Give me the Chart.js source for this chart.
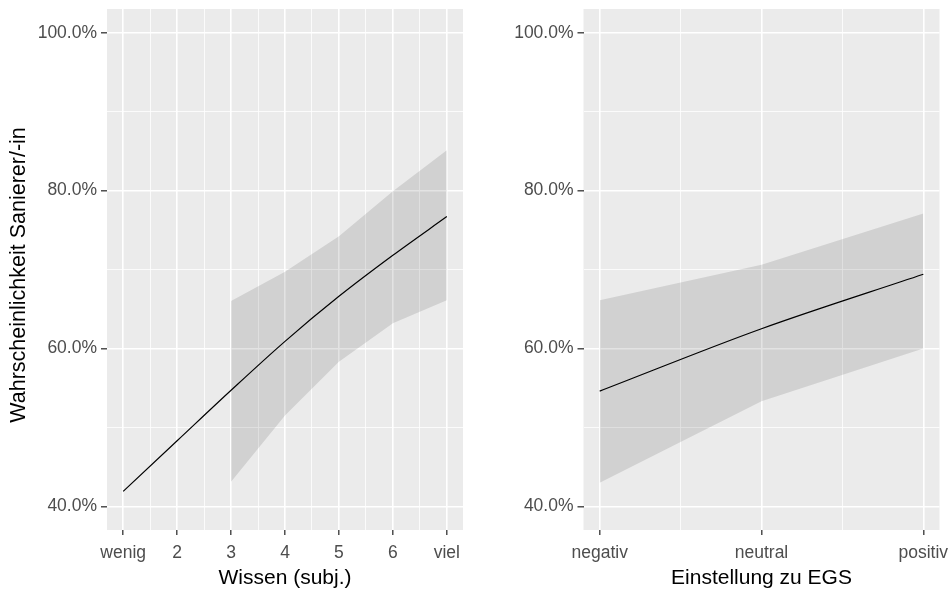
<!DOCTYPE html>
<html>
<head>
<meta charset="utf-8">
<script src="https://cdn.jsdelivr.net/npm/chart.js@4/dist/chart.umd.min.js"></script>
<style>
  html, body { margin: 0; padding: 0; background: #ffffff; }
  .panel { position: absolute; top: 0; width: 475px; height: 589px; }
</style>
</head>
<body>
<div class="panel" style="left:0"><canvas id="wissen" width="475" height="589"></canvas></div>
<div class="panel" style="left:475px"><canvas id="egs" width="475" height="589"></canvas></div>
<script>
// shared y axis
const yMajor = [0.4, 0.6, 0.8, 1.0];
const yMajorLabels = ['40.0%', '60.0%', '80.0%', '100.0%'];
const yMinor = [0.5, 0.7, 0.9];
const yTitle = 'Wahrscheinlichkeit Sanierer/-in';

// left panel: Wissen (subj.)
const wissenX = [1, 2, 3, 4, 5, 6, 7];
const wissenFit = [0.419, 0.483, 0.547, 0.609, 0.666, 0.718, 0.767];
const wissenBandX = [3, 4, 5, 6, 7];
const wissenUpper = [0.660, 0.697, 0.742, 0.799, 0.851];
const wissenLower = [0.431, 0.515, 0.583, 0.632, 0.661];
const wissenTicks = [1, 2, 3, 4, 5, 6, 7];
const wissenLabels = ['wenig', '2', '3', '4', '5', '6', 'viel'];
const wissenMinor = [1.5, 2.5, 3.5, 4.5, 5.5, 6.5];

// right panel: Einstellung zu EGS
const egsX = [1, 2, 3];
const egsFit = [0.546, 0.625, 0.694];
const egsUpper = [0.661, 0.706, 0.771];
const egsLower = [0.430, 0.533, 0.600];
const egsTicks = [1, 2, 3];
const egsLabels = ['negativ', 'neutral', 'positiv'];
const egsMinor = [1.5, 2.5];

const FONT = '"Liberation Sans", Arial, sans-serif';

const panelBg = {
  id: 'panelBg',
  beforeDraw(chart) {
    const a = chart.chartArea;
    const ctx = chart.ctx;
    ctx.save();
    ctx.fillStyle = '#ebebeb';
    ctx.fillRect(a.left, a.top, a.right - a.left, a.bottom - a.top);
    ctx.restore();
  }
};

// rotated y title, placed a bit lower than the scale centre like in ggplot
const yTitlePlugin = {
  id: 'yTitlePlugin',
  afterDraw(chart, args, o) {
    if (!o.text) return;
    const ctx = chart.ctx;
    ctx.save();
    ctx.translate(o.x, o.y);
    ctx.rotate(-Math.PI / 2);
    ctx.fillStyle = '#000000';
    ctx.font = '21.5px ' + FONT;
    ctx.textAlign = 'center';
    ctx.textBaseline = 'middle';
    ctx.fillText(o.text, 0, 0);
    ctx.restore();
  }
};

function pts(xs, ys) {
  return xs.map((x, i) => ({ x: x, y: ys[i] }));
}

function makeChart(id, opts) {
  const majorX = opts.ticks;
  const isMajorX = v => majorX.includes(v);
  const isMajorY = v => yMajor.some(m => Math.abs(m - v) < 1e-9);

  return new Chart(document.getElementById(id), {
    type: 'line',
    data: {
      datasets: [
        {
          data: pts(opts.x, opts.fit),
          borderColor: '#000000',
          borderWidth: 1.2,
          pointRadius: 0,
          fill: false,
          cubicInterpolationMode: 'monotone'
        },
        {
          data: pts(opts.bandX, opts.upper),
          borderWidth: 0,
          borderColor: 'rgba(0,0,0,0)',
          backgroundColor: 'rgba(0,0,0,0.11)',
          pointRadius: 0,
          fill: '+1'
        },
        {
          data: pts(opts.bandX, opts.lower),
          borderWidth: 0,
          borderColor: 'rgba(0,0,0,0)',
          pointRadius: 0,
          fill: false
        }
      ]
    },
    options: {
      responsive: false,
      animation: false,
      events: [],
      layout: { padding: { top: 9, right: opts.padRight, bottom: 0, left: 0 } },
      plugins: {
        legend: { display: false },
        tooltip: { enabled: false },
        yTitlePlugin: { text: opts.yTitle, x: 19, y: 275 }
      },
      scales: {
        x: {
          type: 'linear',
          min: opts.min,
          max: opts.max,
          afterBuildTicks: s => {
            s.ticks = majorX.concat(opts.minor).sort((a, b) => a - b).map(v => ({ value: v }));
          },
          afterFit: s => {
            s.height = 59;
            s.paddingLeft = 0; s.paddingRight = 0;
          },
          border: { display: false },
          grid: {
            color: '#ffffff',
            lineWidth: c => isMajorX(c.tick.value) ? 1.6 : 0.8,
            tickColor: c => isMajorX(c.tick.value) ? '#333333' : 'rgba(0,0,0,0)',
            tickWidth: 1.3,
            tickLength: 5
          },
          ticks: {
            autoSkip: false,
            maxRotation: 0,
            padding: 8,
            color: '#4d4d4d',
            font: { family: FONT, size: 17.5 },
            callback: v => {
              const i = majorX.indexOf(v);
              return i >= 0 ? opts.labels[i] : '';
            }
          },
          title: {
            display: true,
            text: opts.title,
            color: '#000000',
            font: { family: FONT, size: 21, lineHeight: 1.0 },
            padding: { top: 0, bottom: 0 }
          }
        },
        y: {
          type: 'linear',
          min: 0.37,
          max: 1.03,
          afterBuildTicks: s => {
            s.ticks = yMajor.concat(yMinor).sort((a, b) => a - b).map(v => ({ value: v }));
          },
          afterFit: s => {
            s.width = opts.yWidth;
            s.paddingTop = 0; s.paddingBottom = 0;
          },
          border: { display: false },
          grid: {
            color: '#ffffff',
            lineWidth: c => isMajorY(c.tick.value) ? 1.6 : 0.8,
            tickColor: c => isMajorY(c.tick.value) ? '#333333' : 'rgba(0,0,0,0)',
            tickWidth: 1.3,
            tickLength: 6
          },
          ticks: {
            autoSkip: false,
            padding: 4,
            color: '#4d4d4d',
            font: { family: FONT, size: 17.5 },
            callback: v => {
              const i = yMajor.findIndex(m => Math.abs(m - v) < 1e-9);
              return i >= 0 ? yMajorLabels[i] : '';
            }
          }
        }
      }
    },
    plugins: [panelBg, yTitlePlugin]
  });
}

makeChart('wissen', {
  x: wissenX, fit: wissenFit,
  bandX: wissenBandX, upper: wissenUpper, lower: wissenLower,
  ticks: wissenTicks, labels: wissenLabels, minor: wissenMinor,
  min: 0.7, max: 7.3,
  title: 'Wissen (subj.)',
  yTitle: yTitle,
  yWidth: 107, padRight: 12
});

makeChart('egs', {
  x: egsX, fit: egsFit,
  bandX: egsX, upper: egsUpper, lower: egsLower,
  ticks: egsTicks, labels: egsLabels, minor: egsMinor,
  min: 0.9, max: 3.1,
  title: 'Einstellung zu EGS',
  yTitle: '',
  yWidth: 108.5, padRight: 10.5
});
</script>
</body>
</html>
